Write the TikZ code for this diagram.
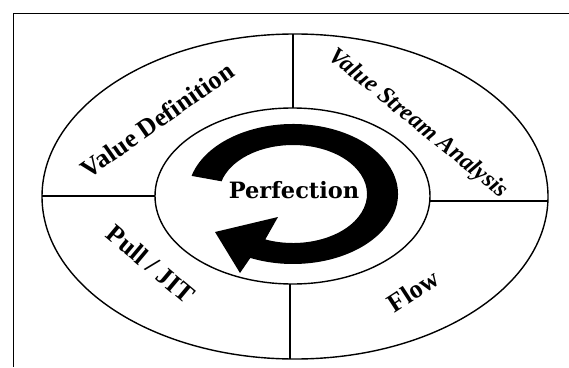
\documentclass[tikz,border=0pt]{standalone}
\usepackage{fontspec}
\setmainfont{Liberation Serif}
\newfontfamily\perffont{DejaVu Serif}
\begin{document}
\begin{tikzpicture}[x=1pt,y=1pt,
  ring/.style={line width=1.4pt},
  divider/.style={line width=1.3pt},
  label/.style={font=\bfseries\fontsize{26}{28}\selectfont, inner sep=0pt},
  ilabel/.style={font=\bfseries\itshape\fontsize{24}{26}\selectfont, inner sep=0pt},
  plabel/.style={font=\perffont\bfseries\fontsize{22.5}{24}\selectfont, inner sep=0pt}]
\useasboundingbox (0,0) rectangle (569,367);
% frame
\draw[line width=0.9pt] (13,0) -- (13,354) -- (569,354);
% ellipses
\coordinate (oc) at (295,170.5);
\coordinate (ic) at (292.5,171);
\draw[ring] (oc) ellipse [x radius=253pt, y radius=162.5pt];
\draw[ring] (ic) ellipse [x radius=137.5pt, y radius=88pt];
% dividers
\coordinate (vt1) at (293,333); \coordinate (vt2) at (293,259);
\coordinate (vb1) at (290,83);  \coordinate (vb2) at (290,8);
\coordinate (hl1) at (42,171);  \coordinate (hl2) at (155,171);
\coordinate (hr1) at (430,166); \coordinate (hr2) at (548,166);
\draw[divider] (vt1) -- (vt2);
\draw[divider] (vb1) -- (vb2);
\draw[divider] (hl1) -- (hl2);
\draw[divider] (hr1) -- (hr2);
% circular arrow
\coordinate (ac) at (293,173);
\coordinate (hlow) at (240,94);
\coordinate (htip) at (215,135);
\coordinate (hup) at (278,150);
\fill ([shift={(165:105pt and 70pt)}]ac)
  arc[start angle=165, end angle=-114, x radius=105pt, y radius=70pt]
  -- (hlow) -- (htip) -- (hup)
  -- ([shift={(-112:74pt and 49pt)}]ac)
  arc[start angle=-112, end angle=165, x radius=74pt, y radius=49pt]
  -- cycle;
% labels
\node[plabel, anchor=base] (perf) at (294,169) {Perfection};
\node[label, rotate=35] (vd) at (157,247) {Value Definition};
\node[ilabel, rotate=-39] (vsa) at (418,243) {Value Stream Analysis};
\node[label, rotate=-40] (pull) at (151,103) {Pull / JIT};
\node[label, rotate=33] (flow) at (413,76) {Flow};
\end{tikzpicture}
\end{document}
